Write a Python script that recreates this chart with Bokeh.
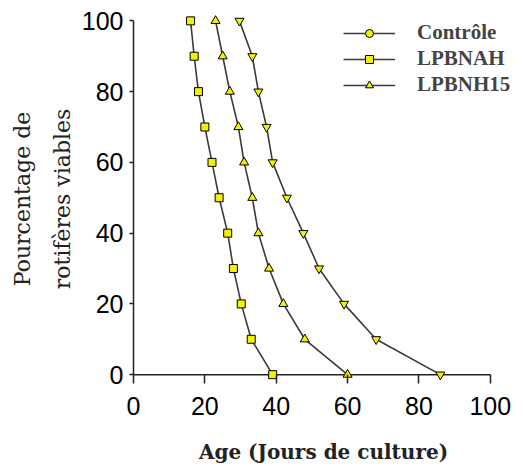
from bokeh.plotting import figure
from bokeh.models import Range1d, Legend, LegendItem, FixedTicker
from bokeh.embed import file_html
from bokeh.resources import INLINE

# data
pct = [100, 90, 80, 70, 60, 50, 40, 30, 20, 10, 0]
lpbnah_age = [16, 17, 18.2, 20, 22, 24, 26.4, 28, 30.2, 33, 39]
lpbnh15_age = [23, 25, 27, 29.4, 31, 33.3, 35, 38, 42, 48, 60]
controle_age = [29.7, 33.3, 35, 37.3, 39, 43, 47.6, 52, 59, 68, 86]
x_ticks = [0, 20, 40, 60, 80, 100]
y_ticks = [0, 20, 40, 60, 80, 100]

NaN = float("nan")

p = figure(width=523, height=466, output_backend="svg", toolbar_location=None,
           x_range=Range1d(0, 106.5), y_range=Range1d(-2.5, 101.8),
           min_border_left=133, min_border_right=10, min_border_top=14, min_border_bottom=81)
p.grid.visible = False
p.outline_line_color = None
p.background_fill_color = "white"

line_col = "#3a3a3a"
mfill = "#f2f200"

# x axis line drawn at y = 0, from first to last tick
p.segment(x0=[x_ticks[0]], y0=[y_ticks[0]], x1=[x_ticks[-1]], y1=[y_ticks[0]],
          line_color="#222222", line_width=1.5)

r1l = p.line(lpbnah_age, pct, line_color=line_col, line_width=1.6)
r1m = p.scatter(lpbnah_age, pct, marker="square", size=8, fill_color=mfill, line_color="black", line_width=1)
r2l = p.line(lpbnh15_age, pct, line_color=line_col, line_width=1.6)
r2m = p.scatter(lpbnh15_age, pct, marker="triangle", size=9, fill_color=mfill, line_color="black", line_width=1)
r3l = p.line(controle_age, pct, line_color=line_col, line_width=1.6)
r3m = p.scatter(controle_age, pct, marker="inverted_triangle", size=9, fill_color=mfill, line_color="black", line_width=1)

# legend glyphs (as drawn in the original legend)
lg1 = p.scatter([NaN], [NaN], marker="circle", size=8, fill_color=mfill, line_color="black")
lg2 = p.scatter([NaN], [NaN], marker="square", size=7, fill_color=mfill, line_color="black")
lg3 = p.scatter([NaN], [NaN], marker="triangle", size=6, fill_color=mfill, line_color="black")
ll = p.line([NaN, NaN], [NaN, NaN], line_color=line_col, line_width=1.6)

legend = Legend(items=[
    LegendItem(label="Contrôle", renderers=[ll, lg1]),
    LegendItem(label="LPBNAH", renderers=[ll, lg2]),
    LegendItem(label="LPBNH15", renderers=[ll, lg3]),
], location=(210, 286))
legend.border_line_color = None
legend.background_fill_alpha = 0
legend.label_text_font = "Liberation Serif"
legend.label_text_font_style = "bold"
legend.label_text_font_size = "21px"
legend.glyph_width = 52
legend.glyph_height = 20
legend.spacing = 1
legend.label_standoff = 22
p.add_layout(legend)

for ax in (p.xaxis[0], p.yaxis[0]):
    ax.major_label_text_font = "Liberation Sans"
    ax.major_label_text_font_size = "25px"
    ax.major_label_text_color = "black"
    ax.axis_line_color = "#222222"
    ax.axis_line_width = 1.5
    ax.major_tick_line_color = "#222222"
    ax.major_tick_line_width = 1.5
    ax.minor_tick_line_color = None
    ax.axis_label_text_font = "DejaVu Serif"
    ax.axis_label_text_color = "#222222"

p.xaxis.axis_line_color = None
p.xaxis.axis_label_text_font_style = "bold"
p.xaxis.axis_label_text_font_size = "20px"
p.yaxis.axis_label_text_font_style = "normal"
p.yaxis.axis_label_text_font_size = "22px"
p.yaxis.axis_label_text_line_height = 1.6
p.yaxis.bounds = (0, 100)
p.xaxis.ticker = FixedTicker(ticks=x_ticks)
p.yaxis.ticker = FixedTicker(ticks=y_ticks)
p.xaxis.major_tick_in = 9
p.xaxis.major_tick_out = 0
p.yaxis.major_tick_in = 0
p.yaxis.major_tick_out = 4
p.xaxis.major_label_standoff = 13
p.yaxis.major_label_standoff = 6
p.xaxis.axis_label = "Age (Jours de culture)"
p.yaxis.axis_label = "Pourcentage de\nrotifères viables"
p.xaxis.axis_label_standoff = 22
p.yaxis.axis_label_standoff = 4

open("out.html", "w").write(file_html(p, INLINE))
